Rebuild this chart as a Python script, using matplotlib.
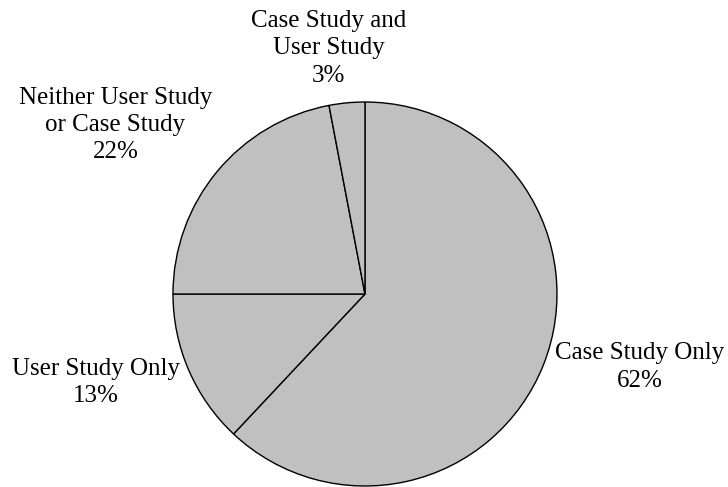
import matplotlib
matplotlib.use("Agg")
import matplotlib.pyplot as plt

plt.rcParams['font.family'] = ['Liberation Serif', 'DejaVu Serif']

# Share of papers by evaluation type
categories = ["Case Study Only", "User Study Only",
              "Neither User Study\nor Case Study", "Case Study and\nUser Study"]
shares = [62, 13, 22, 3]

# where each label block sits, in units of the pie radius
label_pos = [(1.432, -0.38), (-1.40, -0.46), (-1.30, 0.88), (-0.19, 1.28)]

fig = plt.figure(figsize=(7.28, 4.87), dpi=100)
ax = fig.add_axes([0.2376, 0.00205, 0.5275, 0.7885])

ax.pie(shares, startangle=90, counterclock=False, colors=['#c0c0c0'] * len(shares),
       wedgeprops=dict(edgecolor='black', linewidth=1.0))
ax.set_xlim(-1, 1)
ax.set_ylim(-1, 1)
ax.set_aspect('equal')
ax.axis('off')

for name, pct, (x, y) in zip(categories, shares, label_pos):
    ax.text(x, y, f"{name}\n{pct}%", ha='center', va='center', fontsize=18,
            linespacing=1.32, clip_on=False)

fig.savefig("out.png", dpi=100)
